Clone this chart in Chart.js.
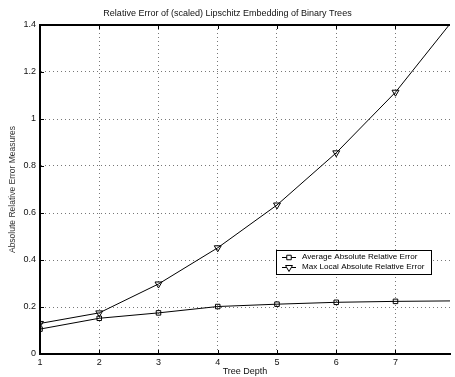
<!DOCTYPE html>
<html>
<head>
<meta charset="utf-8">
<script src="https://cdn.jsdelivr.net/npm/chart.js@4.4.1/dist/chart.umd.min.js"></script>
<style>
  html, body { margin: 0; padding: 0; background: #fff; }
  #wrap { width: 455px; height: 377px; }
</style>
</head>
<body>
<div id="wrap"><canvas id="myChart" width="455" height="377"></canvas></div>
<script>
'use strict';

var depths = [1, 2, 3, 4, 5, 6, 7, 8];
var avgError = [0.106, 0.152, 0.175, 0.202, 0.212, 0.220, 0.224, 0.226];
var maxError = [0.130, 0.175, 0.298, 0.452, 0.634, 0.856, 1.114, 1.43];
var xTicks = [1, 2, 3, 4, 5, 6, 7];
var yTicks = [0, 0.2, 0.4, 0.6, 0.8, 1, 1.2, 1.4];
var FONT = 'Liberation Sans, Arial, Helvetica, sans-serif';

function toPoints(xs, ys) {
  return xs.map(function (x, i) { return { x: x, y: ys[i] }; });
}

// inward tick marks + top frame line, like the matlab box
var framePlugin = {
  id: 'frame',
  afterDatasetsDraw: function (chart) {
    var ctx = chart.ctx;
    var area = chart.chartArea;
    var xs = chart.scales.x;
    var ys = chart.scales.y;
    ctx.save();
    ctx.strokeStyle = '#000';
    ctx.lineWidth = 1;
    ctx.beginPath();
    xTicks.forEach(function (t) {
      var px = Math.round(xs.getPixelForValue(t)) + 0.5;
      ctx.moveTo(px, area.top);
      ctx.lineTo(px, area.top + 4);
      ctx.moveTo(px, area.bottom);
      ctx.lineTo(px, area.bottom - 4);
    });
    yTicks.forEach(function (t) {
      var py = Math.round(ys.getPixelForValue(t)) + 0.5;
      ctx.moveTo(area.left, py);
      ctx.lineTo(area.left + 4, py);
    });
    ctx.stroke();
    ctx.lineWidth = 2;
    ctx.beginPath();
    ctx.moveTo(area.left - 1, area.top);
    ctx.lineTo(area.right, area.top);
    ctx.stroke();
    ctx.restore();
  }
};

// boxed legend sitting inside the plot
var boxLegend = {
  id: 'boxLegend',
  afterDraw: function (chart) {
    var ctx = chart.ctx;
    var x0 = 276, y0 = 250, w = 155, h = 24;
    ctx.save();
    ctx.fillStyle = '#fff';
    ctx.fillRect(x0, y0, w, h);
    ctx.strokeStyle = '#000';
    ctx.lineWidth = 1;
    ctx.strokeRect(x0 + 0.5, y0 + 0.5, w, h);
    ctx.font = '8.1px ' + FONT;
    ctx.textBaseline = 'middle';
    chart.data.datasets.forEach(function (ds, i) {
      var cy = y0 + 7 + i * 10;
      ctx.beginPath();
      ctx.moveTo(x0 + 6, cy + 0.5);
      ctx.lineTo(x0 + 20, cy + 0.5);
      ctx.stroke();
      ctx.fillStyle = '#fff';
      Chart.helpers.drawPoint(ctx, {
        pointStyle: ds.pointStyle,
        rotation: ds.pointRotation || 0,
        radius: ds.pointRadius,
        borderWidth: 1
      }, x0 + 13, cy + 0.5);
      ctx.fillStyle = '#000';
      ctx.fillText(ds.label, x0 + 26, cy);
    });
    ctx.restore();
  }
};

var ctx = document.getElementById('myChart').getContext('2d');
var lineChart = new Chart(ctx, {
  type: 'line',
  data: {
    datasets: [{
      label: 'Average Absolute Relative Error',
      data: toPoints(depths, avgError),
      borderColor: '#000',
      borderWidth: 1,
      pointStyle: 'rect',
      pointRadius: 3.2,
      pointBorderColor: '#000',
      pointBackgroundColor: 'rgba(0,0,0,0)',
      pointBorderWidth: 1,
      tension: 0
    }, {
      label: 'Max Local Absolute Relative Error',
      data: toPoints(depths, maxError),
      borderColor: '#000',
      borderWidth: 1,
      pointStyle: 'triangle',
      pointRotation: 180,
      pointRadius: 4,
      pointBorderColor: '#000',
      pointBackgroundColor: 'rgba(0,0,0,0)',
      pointBorderWidth: 1,
      tension: 0
    }]
  },
  options: {
    responsive: false,
    animation: false,
    layout: { padding: 0 },
    plugins: {
      legend: { display: false },
      tooltip: { enabled: false },
      title: {
        display: true,
        text: 'Relative Error of (scaled) Lipschitz Embedding of Binary Trees',
        color: '#111',
        font: { family: FONT, size: 9, weight: 'normal', lineHeight: 1.2 },
        padding: { top: 8, bottom: 6.2 }
      }
    },
    scales: {
      x: {
        type: 'linear',
        min: 1,
        max: 7.92,
        afterFit: function (scale) { scale.height = 23; },
        afterBuildTicks: function (scale) {
          scale.ticks = xTicks.map(function (v) { return { value: v }; });
        },
        ticks: {
          color: '#111',
          padding: 3,
          maxRotation: 0,
          font: { family: FONT, size: 9 },
          callback: function (v) { return String(v); }
        },
        grid: {
          color: '#777',
          drawTicks: false,
          lineWidth: 1
        },
        border: { display: true, color: '#000', width: 2, dash: [1, 3] },
        title: {
          display: true,
          text: 'Tree Depth',
          color: '#111',
          font: { family: FONT, size: 9 },
          padding: 0
        }
      },
      y: {
        type: 'linear',
        min: 0,
        max: 1.4,
        afterFit: function (scale) { scale.width = 40; },
        afterBuildTicks: function (scale) {
          scale.ticks = yTicks.map(function (v) { return { value: v }; });
        },
        ticks: {
          color: '#111',
          padding: 4,
          font: { family: FONT, size: 9 },
          callback: function (v) { return String(+v.toFixed(1)); }
        },
        grid: {
          color: '#777',
          drawTicks: false,
          lineWidth: 1
        },
        border: { display: true, color: '#000', width: 2, dash: [1, 3] },
        title: {
          display: true,
          text: 'Absolute Relative Error Measures',
          color: '#333',
          font: { family: FONT, size: 8.5 },
          padding: { top: 8, bottom: 0 }
        }
      }
    }
  },
  plugins: [framePlugin, boxLegend]
});
</script>
</body>
</html>
